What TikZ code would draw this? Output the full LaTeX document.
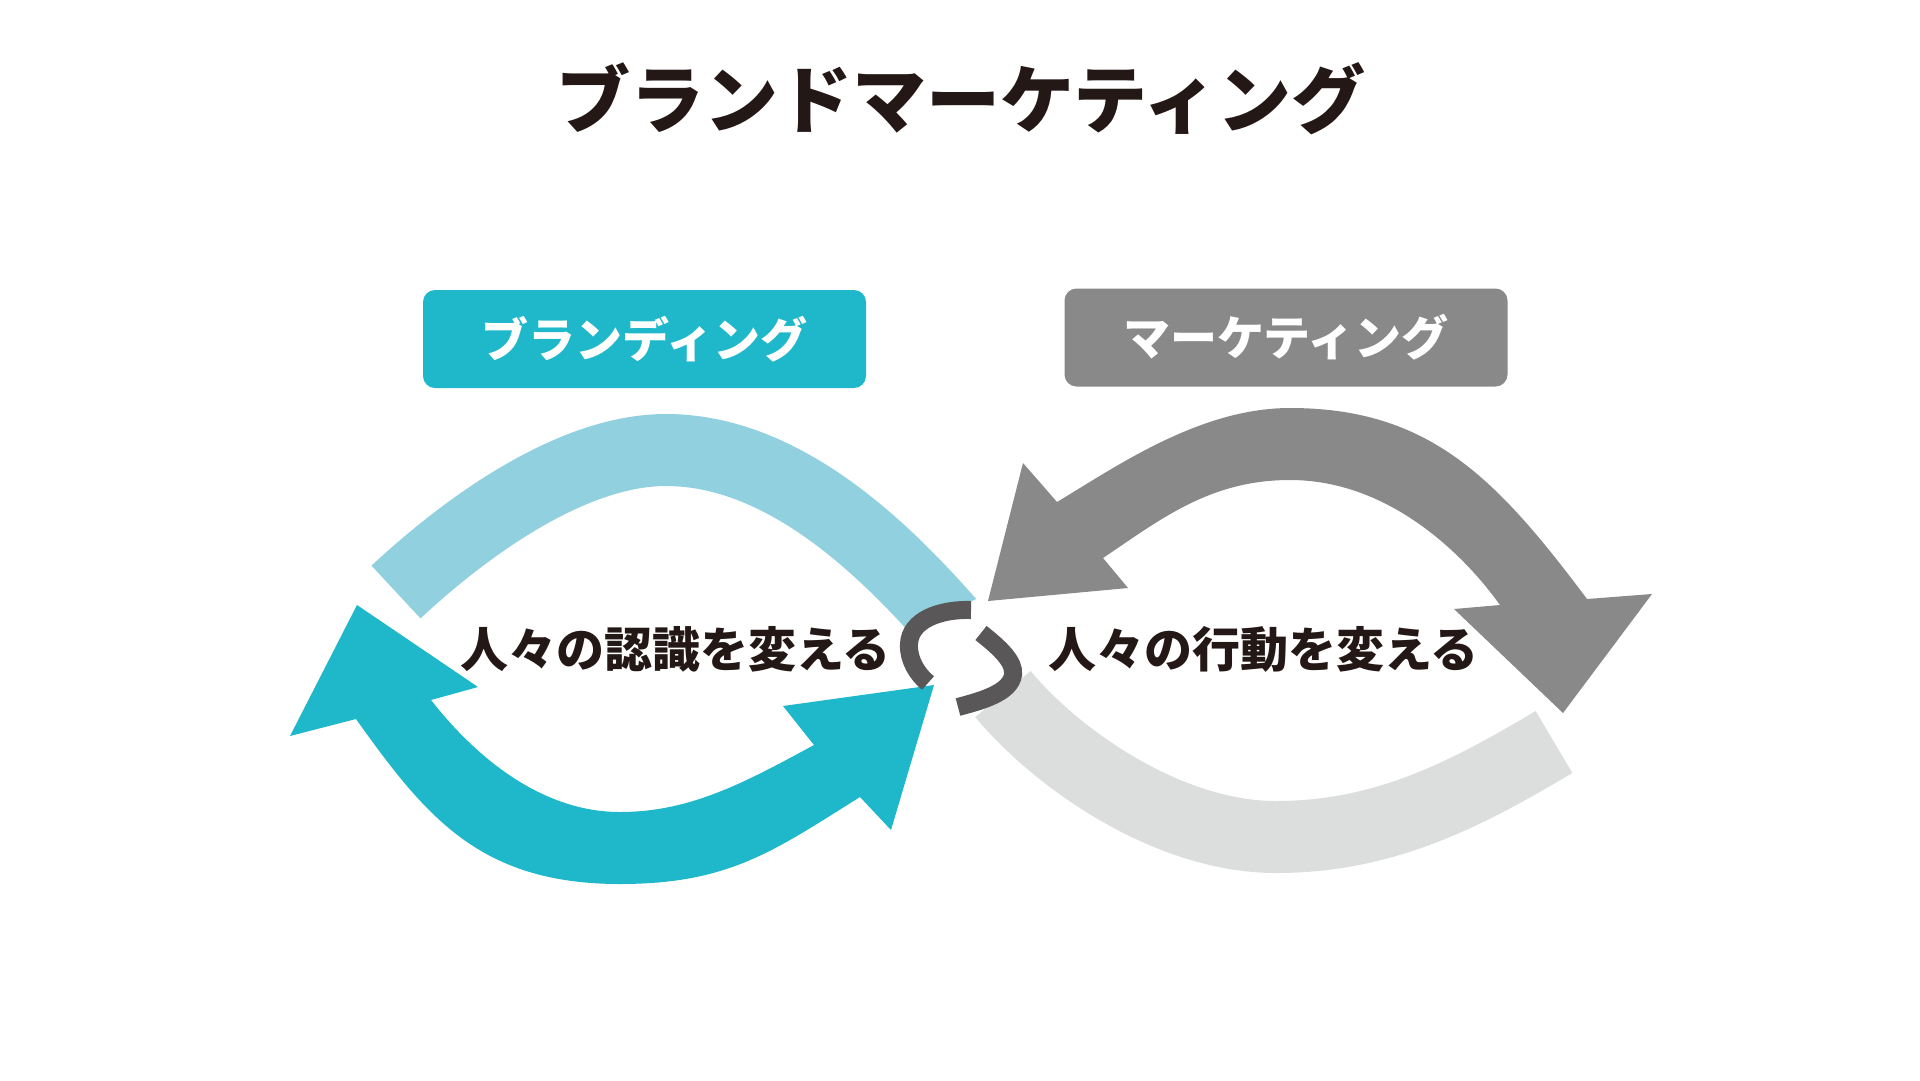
\documentclass[tikz,border=0pt]{standalone}
\usepackage{fontspec}
\setmainfont{Noto Sans CJK JP}
\definecolor{lblue}{HTML}{91D1DF}
\definecolor{cteal}{HTML}{1EB8CA}
\definecolor{cgray}{HTML}{898989}
\definecolor{lgray}{HTML}{DCDDDD}
\definecolor{sgray}{HTML}{595757}
\definecolor{ink}{HTML}{231815}
\begin{document}
\begin{tikzpicture}[x=1pt,y=-1pt,
  bandline/.style={line width=72pt, line cap=butt},
  sline/.style={draw=sgray, line width=18pt, line cap=butt},
  tagbox/.style={rounded corners=12pt, minimum width=443pt, minimum height=98pt, inner sep=0pt, text=white, font=\bfseries\fontsize{47}{52}\selectfont},
  midtext/.style={anchor=base, inner sep=0pt, text=ink, font=\bfseries\fontsize{48}{52}\selectfont},
  titletext/.style={anchor=base, inner sep=0pt, text=ink, font=\bfseries\fontsize{74}{80}\selectfont}]
\useasboundingbox (0,0) rectangle (1920,1080);
\fill[white] (0,0) rectangle (1920,1080);

% light blue band (top left), its right end cut along a slanted line
\begin{scope}
  \clip (0,0) -- (1200,0) -- (1200,494) -- (200,963) -- (0,963) -- cycle;
  \draw[bandline, draw=lblue] (396,592) .. controls (456,536) and (566,450) .. (666,450)
    .. controls (786,450) and (888,553) .. (952,626);
\end{scope}

% light gray band (bottom right)
\draw[bandline, draw=lgray] (1003,694) .. controls (1054,756) and (1166,837) .. (1276,837)
  .. controls (1386,837) and (1468,793) .. (1554,742);

% teal double arrow (bottom left)
\fill[cteal] (357,605) -- (478,687) -- (431,700)
  .. controls (474,755) and (540,812) .. (620,812)
  .. controls (690,812) and (744,783) .. (814,745)
  -- (783,706) -- (934,685) -- (891,830) -- (860,797)
  .. controls (775,850) and (730,884) .. (620,884)
  .. controls (480,884) and (426,817) .. (356,719)
  -- (290,736) -- cycle;

% gray double arrow (top right)
\fill[cgray] (988,601) -- (1023,463) -- (1057,502)
  .. controls (1117,466) and (1200,408) .. (1290,408)
  .. controls (1430,408) and (1497,479) .. (1587,599)
  -- (1652,594) -- (1563,713) -- (1454,609) -- (1500,605)
  .. controls (1465,556) and (1390,480) .. (1290,480)
  .. controls (1210,480) and (1161,519) .. (1103,558)
  -- (1128,588) -- cycle;

% S link
\draw[sline] (971,610) .. controls (940,609) and (910,620) .. (909,644)
  .. controls (908,660) and (918,675) .. (928,683);
\draw[sline] (981,633) .. controls (1000,648) and (1015,662) .. (1013,675)
  .. controls (1010,692) and (985,700) .. (958,707);

% boxes
\node[tagbox, fill=cteal] (branding) at (644.5,339) {ブランディング};
\node[tagbox, fill=cgray] (marketing) at (1286,337.5) {マーケティング};

% texts
\node[titletext] (title) at (961,127) {ブランドマーケティング};
\node[midtext] (left) at (675.5,667) {人々の認識を変える};
\node[midtext] (right) at (1263.5,667) {人々の行動を変える};
\end{tikzpicture}
\end{document}
